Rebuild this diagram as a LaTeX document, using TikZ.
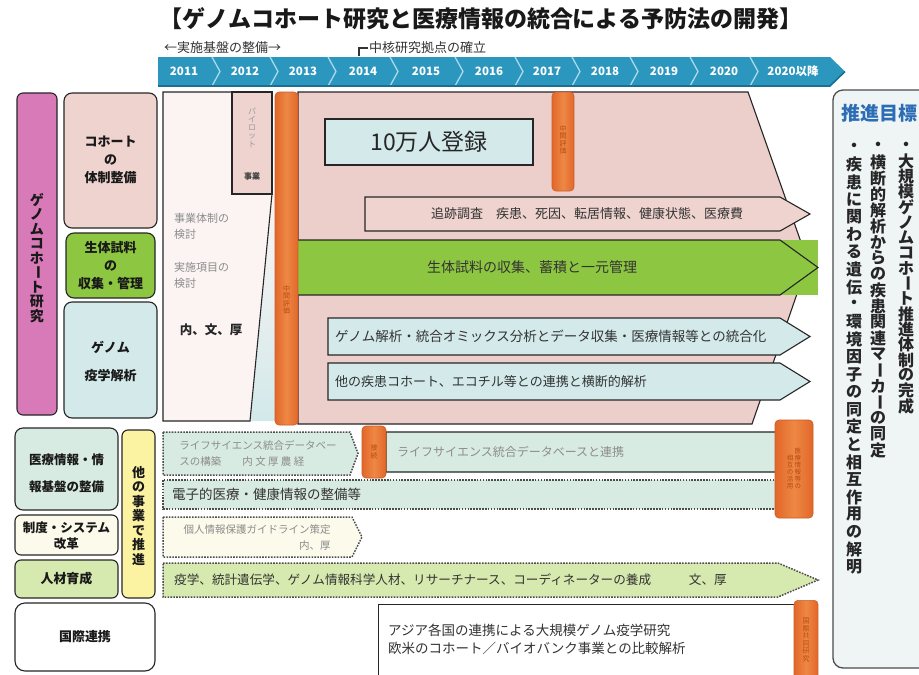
\documentclass[tikz,border=0pt]{standalone}
\usepackage{fontspec}
\setmainfont{Noto Sans CJK JP}
\definecolor{tlblue}{HTML}{2B96BE}
\definecolor{tlsep}{HTML}{A9DAEC}
\definecolor{tldark}{HTML}{1D6F8F}
\definecolor{magP}{HTML}{D97AB8}
\definecolor{pinkL}{HTML}{EFD3CF}
\definecolor{pinkA}{HTML}{ECCFCB}
\definecolor{pinkW}{HTML}{FBF4F3}
\definecolor{greenM}{HTML}{8DC641}
\definecolor{blueL}{HTML}{D3E9EA}
\definecolor{orD}{HTML}{E2672A}
\definecolor{orL}{HTML}{EE8844}
\definecolor{orT}{HTML}{B84A14}
\definecolor{tealL}{HTML}{D8EBE3}
\definecolor{greenL}{HTML}{D6E9AE}
\definecolor{yellowL}{HTML}{FBF3A2}
\definecolor{creamL}{HTML}{FCFAEA}
\definecolor{goalbg}{HTML}{EEF5F4}
\definecolor{goalblue}{HTML}{2C6DB5}
% vertical (tategaki) stacking of characters
\newdimen\vtpitch
\def\vtend{\vtend}
\newcommand\vt[2]{\vbox{\offinterlineskip\vtpitch=#1\relax\vtloop#2\vtend}}
\def\vtloop#1{\ifx#1\vtend\else\vtbox{#1}\expandafter\vtloop\fi}
\def\vtbox#1{\hbox to 1em{\hss\vbox to\vtpitch{\vss\hbox{\ifx ー#1\rotatebox[origin=c]{-90}{ー}\else #1\fi}\vss}\hss}}
\tikzset{
  sol/.style={draw=black!85, line width=1.1pt},
  dotb/.style={draw=black!70, line width=1.5pt, dash pattern=on 1.6pt off 1.3pt},
  lbox/.style={draw=black!85, line width=1.1pt, rounded corners=8pt, inner sep=0pt},
  lbl/.style={font=\bfseries\fontsize{13}{18}\selectfont, align=center, text=black!90, inner sep=0pt},
  atext/.style={font=\fontsize{13}{15}\selectfont, text=black!80, inner sep=0pt},
  gtext/.style={font=\fontsize{11}{16}\selectfont, text=black!45, inner sep=0pt, align=left},
  anot/.style={font=\fontsize{13}{14}\selectfont, text=black!80, inner sep=1pt},
  yr/.style={font=\bfseries\fontsize{11.5}{12}\selectfont, text=white, inner sep=0pt},
  obar/.style={rounded corners=4pt, left color=orD, right color=orD, middle color=orL, draw=orD!90!black, line width=0.6pt, inner sep=0pt},
  otext/.style={font=\fontsize{7}{8}\selectfont, text=orT, inner sep=0pt},
  vtxt/.style={font=\bfseries\fontsize{16}{16}\selectfont, text=black!85, inner sep=0pt},
}
\begin{document}
\begin{tikzpicture}[x=1pt,y=-1pt]
\useasboundingbox (0,0) rectangle (919,675);
\fill[white] (0,0) rectangle (919,675);

% ---------- title ----------
\node[font=\bfseries\fontsize{23}{25}\selectfont, text=black!90] (title) at (481,19) {【ゲノムコホート研究と医療情報の統合による予防法の開発】};

% ---------- annotations ----------
\node[anot, anchor=west] (ann1) at (163,48) {←実施基盤の整備→};
\node[anot, anchor=west] (ann2) at (368,48) {中核研究拠点の確立};
\coordinate (brk) at (359,56);
\draw[black!80, line width=1.1pt] (ann2.west) -| (brk);

% ---------- timeline ----------
\fill[tlblue] (158,57) -- (212,57) -- (220,71.5) -- (212,86) -- (158,86) -- cycle;
\foreach \a/\b in {212/270,270/328,328/390,390/455,455/515,515/572,572/630,630/690,690/750}
  \fill[tlblue] (\a,57) -- (\b,57) -- (\b+8,71.5) -- (\b,86) -- (\a,86) -- (\a+8,71.5) -- cycle;
\fill[tlblue] (750,57) -- (830,57) -- (845,71.5) -- (830,86) -- (750,86) -- (758,71.5) -- cycle;
\foreach \b in {212,270,328,390,455,515,572,630,690,750}
  \draw[tlsep, line width=1.3pt] (\b,57) -- (\b+8,71.5) -- (\b,86);
\draw[tldark, line width=1.6pt] (158,86) -- (830,86) -- (845,71.5);
\node[yr] (y1) at (184,71.5) {2011};
\node[yr] (y2) at (245,71.5) {2012};
\node[yr] (y3) at (303,71.5) {2013};
\node[yr] (y4) at (363,71.5) {2014};
\node[yr] (y5) at (426,71.5) {2015};
\node[yr] (y6) at (489,71.5) {2016};
\node[yr] (y7) at (547,71.5) {2017};
\node[yr] (y8) at (605,71.5) {2018};
\node[yr] (y9) at (664,71.5) {2019};
\node[yr] (y10) at (724,71.5) {2020};
\node[yr] (y11) at (793,71.5) {2020以降};

% ---------- left column ----------
\node[lbox, fill=magP, minimum width=40, minimum height=322, rounded corners=6pt] (gc) at (37,254) {};
\node[font=\bfseries\fontsize{14}{14}\selectfont, text=black!90, inner sep=0pt] (gct) at (37,258) {\vt{14.5pt}{ゲノムコホート研究}};
\node[lbox, fill=pinkL, minimum width=93, minimum height=135] (coh) at (110.5,160.5) {};
\node[lbl] (coht) at (110.5,160) {コホート\\の\\体制整備};
\node[lbox, fill=greenM, minimum width=89, minimum height=65] (bio) at (110.5,265.5) {};
\node[lbl] (biot) at (110.5,266) {生体試料\\の\\収集・管理};
\node[lbox, fill=blueL, minimum width=93, minimum height=116] (gen) at (110.5,360) {};
\node[lbl, font=\bfseries\fontsize{13}{28}\selectfont] (gent) at (110.5,361) {ゲノム\\疫学解析};

% ---------- early-phase column ----------
\shade[top color=pinkW, bottom color=blueL] (272,194) -- (277,194) -- (277,421) -- (250,421) -- cycle;
\filldraw[sol, fill=pinkW] (163,92) -- (272,92) -- (272,194) -- (250,421) -- (163,421) -- cycle;
\node[sol, fill=pinkL, minimum width=40, minimum height=102, inner sep=0pt] (pilot) at (252,143) {};
\node[font=\fontsize{8}{8}\selectfont, text=black!40, inner sep=0pt] (pilott) at (252,128) {\vt{8.5pt}{パイロット}};
\node[font=\bfseries\fontsize{8}{8}\selectfont, text=black!75, inner sep=0pt] (pilotj) at (252,176) {事業};
\node[gtext, anchor=west] (kt1) at (174,226) {事業体制の\\検討};
\node[gtext, anchor=west] (kt2) at (174,275) {実施項目の\\検討};
\node[font=\bfseries\fontsize{12.5}{14}\selectfont, text=black!85, inner sep=0pt] (kt3) at (211,330) {内、文、厚};

% ---------- main pink block ----------
\filldraw[sol, fill=pinkA] (298,92) -- (748,92) -- (808,262) -- (752,424) -- (298,424) -- cycle;
\node[draw=black!85, line width=1.4pt, fill=blueL, minimum width=208, minimum height=46, inner sep=0pt] (reg) at (429,142) {};
\node[font=\fontsize{23}{25}\selectfont, text=black!85, inner sep=0pt] (regt) at (429,142) {10万人登録};

% follow-up survey arrow
\filldraw[sol, fill=pinkL] (365,197) -- (780,197) -- (810,214) -- (780,231) -- (365,231) -- cycle;
\node[atext] (fol) at (587,214) {追跡調査　疾患、死因、転居情報、健康状態、医療費};
% biospecimen arrow
\fill[greenM] (298,240) rectangle (818,295);
\draw[sol] (298,240) -- (780,240) -- (818,267.5) -- (780,295) -- (298,295);
\node[atext, font=\fontsize{14}{15}\selectfont] (bioa) at (532,267.5) {生体試料の収集、蓄積と一元管理};
% genome analysis arrows
\filldraw[sol, fill=blueL] (328,318) -- (780,318) -- (810,336.5) -- (780,355) -- (328,355) -- cycle;
\node[atext, font=\fontsize{13.5}{15}\selectfont, anchor=west] (gena) at (335,336.5) {ゲノム解析・統合オミックス分析とデータ収集・医療情報等との統合化};
\filldraw[sol, fill=blueL] (328,363) -- (780,363) -- (810,381.5) -- (780,400) -- (328,400) -- cycle;
\node[atext, anchor=west] (otha) at (335,381.5) {他の疾患コホート、エコチル等との連携と横断的解析};

% orange bars (upper)
\node[obar, minimum width=23, minimum height=333] (ob1) at (286.5,258.5) {};
\node[otext] (ob1t) at (286.5,300) {\vt{7.5pt}{中間評価}};
\node[obar, minimum width=22, minimum height=99] (ob2) at (563,141.5) {};
\node[otext] (ob2t) at (563,140) {\vt{7.5pt}{中間評価}};

% ---------- information rows ----------
\filldraw[dotb, fill=tealL] (163,432) -- (350,432) -- (358,453.5) -- (350,475) -- (163,475) -- cycle;
\node[gtext, font=\fontsize{10.5}{16}\selectfont] (lsd) at (258,453.5) {ライフサイエンス統合データベー\\スの構築　　内 文 厚 農 経};
\filldraw[sol, fill=tealL] (386,432) -- (790,432) -- (800,452) -- (790,472) -- (386,472) -- cycle;
\node[gtext, font=\fontsize{12}{14}\selectfont, anchor=west] (lsd2) at (397,452) {ライフサイエンス統合データベースと連携};
\filldraw[dotb, fill=tealL] (163,480) rectangle (776,509);
\node[atext, font=\fontsize{13.5}{15}\selectfont, anchor=west] (emr) at (172,494.5) {電子的医療・健康情報の整備等};
\filldraw[dotb, fill=creamL] (163,517) -- (352,517) -- (362,537) -- (352,557) -- (163,557) -- cycle;
\node[gtext, font=\fontsize{10.5}{16}\selectfont, align=right] (priv) at (257,537) {個人情報保護ガイドライン策定\\内、厚};
\filldraw[dotb, fill=greenL] (163,563) -- (778,563) -- (818,580) -- (778,597) -- (163,597) -- cycle;
\node[atext, font=\fontsize{12.6}{14}\selectfont, anchor=west] (hr) at (174,580) {疫学、統計遺伝学、ゲノム情報科学人材、リサーチナース、コーディネーターの養成　　　文、厚};
\node[sol, line width=1.3pt, fill=white, minimum width=418, minimum height=86, inner sep=0pt, anchor=north west] (intl) at (378,604) {};
\node[atext, font=\fontsize{13.5}{18}\selectfont, align=left, anchor=west] (intlt) at (388,639) {アジア各国の連携による大規模ゲノム疫学研究\\欧米のコホート／バイオバンク事業との比較解析};

% orange bars (lower)
\node[obar, minimum width=24, minimum height=52] (ob3) at (374,452) {};
\node[otext] (ob3t) at (374,452) {\vt{7.5pt}{接続}};
\node[obar, minimum width=38, minimum height=98] (ob4) at (794,469) {};
\node[otext, font=\fontsize{6.5}{7}\selectfont] (ob4t) at (794,469) {\vt{7pt}{相互の活用}\,\vt{7pt}{医療情報等の}};
\node[obar, minimum width=24, minimum height=90, anchor=north] (ob5) at (806,600) {};
\node[otext] (ob5t) at (806,640) {\vt{7.5pt}{国際共同研究}};

% ---------- lower left ----------
\node[lbox, fill=tealL, minimum width=103, minimum height=82] (med) at (66.5,469) {};
\node[lbl, font=\bfseries\fontsize{12.5}{27}\selectfont] (medt) at (66.5,473) {医療情報・情\\報基盤の整備};
\node[lbox, fill=creamL, minimum width=103, minimum height=40, rounded corners=6pt] (sys) at (66.5,535) {};
\node[lbl, font=\bfseries\fontsize{12.5}{16}\selectfont] (syst) at (66.5,536) {制度・システム\\改革};
\node[lbox, fill=greenL, minimum width=103, minimum height=38, rounded corners=6pt] (jin) at (66.5,579) {};
\node[lbl] (jint) at (66.5,579) {人材育成};
\node[lbox, fill=yellowL, minimum width=33, minimum height=168, rounded corners=6pt] (oth) at (138.5,514) {};
\node[font=\bfseries\fontsize{13}{13}\selectfont, text=black!90, inner sep=0pt] (otht) at (138.5,516) {\vt{14.5pt}{他の事業で推進}};
\node[lbox, fill=white, minimum width=140, minimum height=68, rounded corners=10pt] (kok) at (85,637) {};
\node[lbl] (kokt) at (85,637) {国際連携};

% ---------- goals ----------
\node[draw=black!70, line width=1.3pt, rounded corners=10pt, fill=goalbg, minimum width=110, minimum height=578, inner sep=0pt] (goal) at (888,379) {};
\node[font=\bfseries\fontsize{19}{20}\selectfont, text=goalblue, anchor=west, inner sep=0pt] (goalt) at (841,113) {推進目標};
\node[vtxt, anchor=north] (g1) at (906,138) {\vt{15.3pt}{・大規模ゲノムコホート推進体制の完成}};
\node[vtxt, anchor=north] (g2) at (878,138) {\vt{16pt}{・横断的解析からの疾患関連マーカーの同定}};
\node[vtxt, anchor=north] (g3) at (854,138) {\vt{17.5pt}{・疾患に関わる遺伝・環境因子の同定と相互作用の解明}};
\end{tikzpicture}
\end{document}
